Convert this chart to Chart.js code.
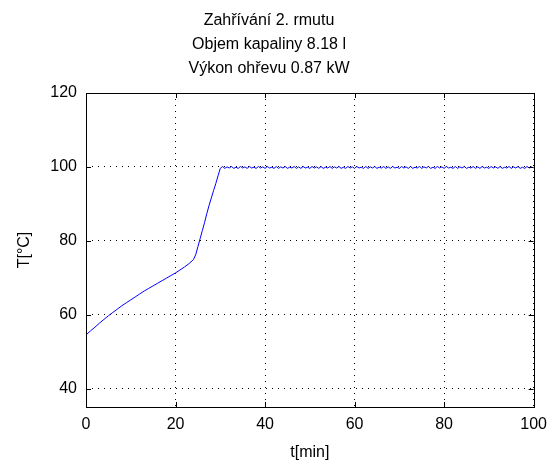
<!DOCTYPE html>
<html>
<head>
<meta charset="utf-8">
<title>Zahřívání 2. rmutu</title>
<script src="https://cdn.jsdelivr.net/npm/chart.js"></script>
<style>
    body { margin: 0; background: #fff; }
    canvas { display: block; }
</style>
</head>
<body>
<canvas id="chart" width="555" height="465"></canvas>
<script>
// Measured mash temperature over time
const timeMin = [
    0, 1, 2, 3, 4, 5, 6, 7, 8, 9, 10, 11, 12,
    13, 14, 15, 16, 17, 18, 19, 20, 21, 22, 23, 24,
    24.5, 25, 25.5, 26, 26.5, 27, 27.5, 28, 28.5, 29, 29.5, 30,
    30.5, 31, 31.5, 32, 32.5, 33, 33.5, 34, 34.5, 35,
    35.5, 36, 36.5, 37, 37.5, 38, 38.5, 39, 39.5, 40,
    40.5, 41, 41.5, 42, 42.5, 43, 43.5, 44, 44.5, 45,
    45.5, 46, 46.5, 47, 47.5, 48, 48.5, 49, 49.5, 50,
    50.5, 51, 51.5, 52, 52.5, 53, 53.5, 54, 54.5, 55,
    55.5, 56, 56.5, 57, 57.5, 58, 58.5, 59, 59.5, 60,
    60.5, 61, 61.5, 62, 62.5, 63, 63.5, 64, 64.5, 65,
    65.5, 66, 66.5, 67, 67.5, 68, 68.5, 69, 69.5, 70,
    70.5, 71, 71.5, 72, 72.5, 73, 73.5, 74, 74.5, 75,
    75.5, 76, 76.5, 77, 77.5, 78, 78.5, 79, 79.5, 80,
    80.5, 81, 81.5, 82, 82.5, 83, 83.5, 84, 84.5, 85,
    85.5, 86, 86.5, 87, 87.5, 88, 88.5, 89, 89.5, 90,
    90.5, 91, 91.5, 92, 92.5, 93, 93.5, 94, 94.5, 95,
    95.5, 96, 96.5, 97, 97.5, 98, 98.5, 99, 99.5, 100
];
const tempC = [
    54.5, 55.6, 56.6, 57.7, 58.7, 59.7, 60.6, 61.5, 62.4, 63.2, 64.0, 64.8, 65.6,
    66.4, 67.1, 67.8, 68.5, 69.2, 69.9, 70.6, 71.3, 72.1, 72.9, 73.8, 74.9,
    76.2, 78.4, 80.6, 82.8, 85.0, 87.4, 89.6, 91.6, 93.6, 95.5, 97.6, 99.6,
    100.1, 99.6, 100.0, 99.7, 100.1, 99.6, 99.9, 99.6, 100.1, 99.7,
    100.0, 99.6, 100.1, 99.7, 99.9, 99.6, 100.1, 99.7, 100.0, 99.6,
    100.1, 99.7, 99.9, 99.6, 100.1, 99.6, 100.0, 99.7, 100.1, 99.6,
    99.9, 99.7, 100.1, 99.6, 100.0, 99.6, 100.1, 99.7, 99.9, 99.6,
    100.1, 99.7, 100.0, 99.6, 100.1, 99.6, 99.9, 99.7, 100.1, 99.6,
    100.0, 99.7, 100.1, 99.6, 99.9, 99.6, 100.1, 99.7, 100.0, 99.6,
    100.1, 99.7, 99.9, 99.6, 100.1, 99.6, 100.0, 99.7, 100.1, 99.6,
    99.9, 99.7, 100.1, 99.6, 100.0, 99.6, 100.1, 99.7, 99.9, 99.6,
    100.1, 99.7, 100.0, 99.6, 100.1, 99.6, 99.9, 99.7, 100.1, 99.6,
    100.0, 99.7, 100.1, 99.6, 99.9, 99.6, 100.1, 99.7, 100.0, 99.6,
    100.1, 99.7, 99.9, 99.6, 100.1, 99.6, 100.0, 99.7, 100.1, 99.6,
    99.9, 99.7, 100.1, 99.6, 100.0, 99.6, 100.1, 99.7, 99.9, 99.6,
    100.1, 99.7, 100.0, 99.6, 100.1, 99.6, 99.9, 99.7, 100.1, 99.6,
    100.0, 99.7, 100.1, 99.6, 99.9, 99.6, 100.1, 99.7, 100.0, 99.7
];
const xTicks = [0, 20, 40, 60, 80, 100];
const yTicks = [40, 60, 80, 100, 120];
const titleLines = ['Zahřívání 2. rmutu', 'Objem kapaliny 8.18 l', 'Výkon ohřevu 0.87 kW'];

Chart.defaults.font.family = '"Liberation Sans", Arial, sans-serif';
Chart.defaults.font.size = 16;
Chart.defaults.color = '#000';

// axes box with inward tick marks on all four sides
const boxPlugin = {
    id: 'box',
    afterDraw(chart) {
        const { ctx, chartArea: a, scales } = chart;
        const len = 5;
        ctx.save();
        ctx.strokeStyle = '#000';
        ctx.lineWidth = 1;
        ctx.beginPath();
        xTicks.forEach(v => {
            const x = Math.round(scales.x.getPixelForValue(v)) + 0.5;
            ctx.moveTo(x, a.bottom); ctx.lineTo(x, a.bottom - len);
            ctx.moveTo(x, a.top); ctx.lineTo(x, a.top + len);
        });
        yTicks.forEach(v => {
            const y = Math.round(scales.y.getPixelForValue(v)) + 0.5;
            ctx.moveTo(a.left, y); ctx.lineTo(a.left + len, y);
            ctx.moveTo(a.right, y); ctx.lineTo(a.right - len, y);
        });
        ctx.stroke();
        ctx.strokeRect(Math.round(a.left) + 0.5, Math.round(a.top) + 0.5,
            Math.round(a.right - a.left), Math.round(a.bottom - a.top));
        ctx.restore();
    }
};

new Chart(document.getElementById('chart'), {
    type: 'line',
    data: {
        datasets: [{
            data: timeMin.map((t, i) => ({ x: t, y: tempC[i] })),
            borderColor: '#0000ff',
            borderWidth: 1,
            pointRadius: 0,
            tension: 0,
            fill: false
        }]
    },
    options: {
        responsive: false,
        animation: false,
        devicePixelRatio: 1,
        layout: { padding: { left: 0, right: 17, top: 0, bottom: 0 } },
        plugins: {
            legend: { display: false },
            tooltip: { enabled: false },
            title: {
                display: true,
                text: titleLines,
                font: { size: 16, weight: 'normal', lineHeight: 1.5 },
                color: '#000',
                padding: { top: 9, bottom: 12 }
            }
        },
        scales: {
            x: {
                type: 'linear',
                min: 0,
                max: 100,
                afterBuildTicks: s => { s.ticks = xTicks.map(v => ({ value: v })); },
                afterFit: s => { s.height = 58; },
                ticks: { padding: 8, color: '#000' },
                grid: { color: '#000', lineWidth: 1, drawTicks: false },
                border: { display: false, dash: [1, 5] },
                title: { display: true, text: 't[min]', color: '#000', padding: { top: 0, bottom: 3 } }
            },
            y: {
                min: 35,
                max: 120,
                afterBuildTicks: s => { s.ticks = yTicks.map(v => ({ value: v })); },
                afterFit: s => { s.width = 86; },
                ticks: { padding: 9, color: '#000' },
                grid: { color: '#000', lineWidth: 1, drawTicks: false },
                border: { display: false, dash: [1, 5] },
                title: { display: true, text: 'T[°C]', color: '#000', padding: { top: 15, bottom: 0 } }
            }
        }
    },
    plugins: [boxPlugin]
});
</script>
</body>
</html>
